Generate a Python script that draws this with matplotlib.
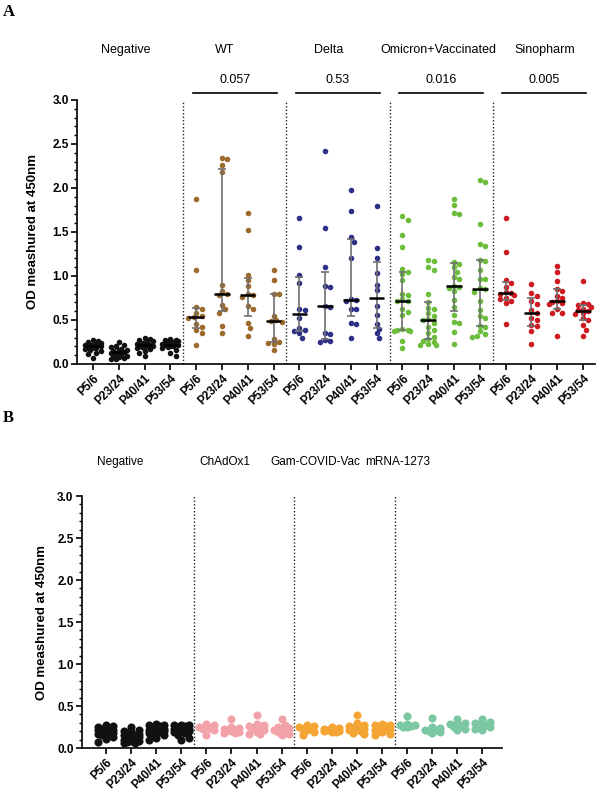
import matplotlib.pyplot as plt
import numpy as np
from matplotlib.ticker import MultipleLocator

plt.rcParams['font.family'] = ['Liberation Sans', 'DejaVu Sans']

time_points = ['P5/6', 'P23/24', 'P40/41', 'P53/54']

negative = [
    [0.27, 0.26, 0.25, 0.24, 0.23, 0.22, 0.21, 0.21, 0.20, 0.20, 0.19, 0.18, 0.17, 0.16, 0.15, 0.13, 0.11, 0.07],
    [0.25, 0.22, 0.20, 0.19, 0.17, 0.16, 0.15, 0.15, 0.14, 0.13, 0.12, 0.10, 0.09, 0.08, 0.08, 0.07, 0.06, 0.06],
    [0.29, 0.28, 0.27, 0.26, 0.25, 0.24, 0.23, 0.22, 0.22, 0.21, 0.20, 0.20, 0.19, 0.18, 0.17, 0.15, 0.12, 0.09],
    [0.28, 0.27, 0.27, 0.26, 0.25, 0.24, 0.23, 0.23, 0.22, 0.22, 0.21, 0.20, 0.19, 0.18, 0.16, 0.12, 0.09],
]
wt = [
    [1.88, 1.07, 0.65, 0.63, 0.58, 0.54, 0.53, 0.52, 0.45, 0.42, 0.39, 0.35, 0.22],
    [2.34, 2.33, 2.26, 2.18, 0.90, 0.83, 0.80, 0.78, 0.67, 0.62, 0.58, 0.43, 0.35],
    [1.71, 1.52, 1.01, 0.95, 0.89, 0.80, 0.78, 0.76, 0.66, 0.62, 0.46, 0.41, 0.32],
    [1.07, 0.95, 0.79, 0.79, 0.55, 0.50, 0.49, 0.48, 0.28, 0.25, 0.24, 0.23, 0.16],
]
delta = [
    [1.66, 1.33, 1.01, 0.92, 0.63, 0.61, 0.52, 0.41, 0.39, 0.37, 0.35, 0.30],
    [2.42, 1.54, 1.10, 0.89, 0.87, 0.66, 0.65, 0.35, 0.34, 0.27, 0.26, 0.25],
    [1.98, 1.74, 1.44, 1.39, 1.20, 0.74, 0.73, 0.71, 0.63, 0.62, 0.46, 0.45, 0.30],
    [1.80, 1.32, 1.20, 1.03, 0.90, 0.84, 0.66, 0.56, 0.45, 0.40, 0.35, 0.30],
]
omicron = [
    [1.68, 1.64, 1.47, 1.33, 1.08, 1.04, 1.02, 0.95, 0.80, 0.78, 0.74, 0.72, 0.71, 0.63, 0.59, 0.56,
     0.40, 0.39, 0.39, 0.38, 0.37, 0.26, 0.18],
    [1.18, 1.17, 1.10, 1.07, 0.80, 0.70, 0.64, 0.62, 0.58, 0.54, 0.51, 0.50, 0.47, 0.42, 0.39, 0.35,
     0.31, 0.28, 0.26, 0.25, 0.23, 0.22, 0.22],
    [1.87, 1.81, 1.72, 1.70, 1.16, 1.14, 1.10, 1.05, 0.99, 0.97, 0.89, 0.88, 0.86, 0.83, 0.73, 0.65,
     0.56, 0.48, 0.47, 0.36, 0.23],
    [2.09, 2.07, 1.59, 1.36, 1.34, 1.18, 1.17, 1.07, 0.97, 0.96, 0.86, 0.85, 0.82, 0.71, 0.61, 0.54,
     0.52, 0.43, 0.42, 0.37, 0.34, 0.32, 0.31],
]
sinopharm = [
    [1.66, 1.27, 0.95, 0.92, 0.88, 0.82, 0.81, 0.80, 0.78, 0.75, 0.74, 0.71, 0.69, 0.45],
    [0.91, 0.81, 0.77, 0.72, 0.68, 0.61, 0.58, 0.52, 0.50, 0.44, 0.43, 0.38, 0.23],
    [1.11, 1.04, 0.94, 0.85, 0.83, 0.77, 0.75, 0.71, 0.70, 0.69, 0.68, 0.62, 0.58, 0.58, 0.32],
    [0.94, 0.69, 0.68, 0.67, 0.65, 0.63, 0.61, 0.60, 0.58, 0.57, 0.52, 0.50, 0.44, 0.39, 0.32],
]
chadox1 = [
    [0.29, 0.27, 0.25, 0.24, 0.23, 0.21, 0.16],
    [0.34, 0.25, 0.24, 0.23, 0.22, 0.21, 0.20, 0.19, 0.18, 0.18],
    [0.39, 0.29, 0.27, 0.26, 0.24, 0.23, 0.21, 0.19, 0.17, 0.17],
    [0.35, 0.28, 0.25, 0.24, 0.23, 0.22, 0.20, 0.19, 0.17, 0.15],
]
gam_covid_vac = [
    [0.28, 0.26, 0.25, 0.24, 0.23, 0.22, 0.19, 0.15],
    [0.25, 0.24, 0.23, 0.22, 0.21, 0.21, 0.20, 0.20, 0.19, 0.19],
    [0.39, 0.30, 0.28, 0.26, 0.25, 0.24, 0.23, 0.22, 0.21, 0.20, 0.18, 0.17],
    [0.29, 0.28, 0.27, 0.26, 0.25, 0.24, 0.23, 0.22, 0.21, 0.20, 0.19, 0.17, 0.15],
]
mrna_1273 = [
    [0.38, 0.29, 0.28, 0.27, 0.26, 0.25, 0.25],
    [0.36, 0.25, 0.24, 0.22, 0.21, 0.20, 0.19, 0.18],
    [0.35, 0.30, 0.29, 0.27, 0.26, 0.25, 0.23, 0.21],
    [0.35, 0.31, 0.30, 0.28, 0.27, 0.26, 0.25, 0.23, 0.22],
]

names_a = ['Negative', 'WT', 'Delta', 'Omicron+Vaccinated', 'Sinopharm']
groups_a = [negative, wt, delta, omicron, sinopharm]
colors_a = ['#111111', '#9c6a2c', '#2e2f86', '#6cbd3c', '#d01a22']
p_values = ['0.057', '0.53', '0.016', '0.005']

names_b = ['Negative', 'ChAdOx1', 'Gam-COVID-Vac', 'mRNA-1273']
groups_b = [negative, chadox1, gam_covid_vac, mrna_1273]
colors_b = ['#111111', '#f2a3aa', '#f5a534', '#7cc7a3']


def swarm_offsets(values, px_x, px_y, diam, max_half):
    # beeswarm limited to a fixed width; overlaps allowed once the row is full
    values = np.asarray(values, dtype=float)
    order = np.argsort(-values)
    placed = []
    offsets = np.zeros(len(values))
    n_steps = int(np.ceil(max_half / (diam * 0.6)))
    step = max_half / n_steps
    cands = [0.0]
    for k in range(1, n_steps + 1):
        cands += [k * step, -k * step]
    for i in order:
        y = values[i] * px_y
        best, best_d = 0.0, -1.0
        for c in cands:
            d = min([np.hypot(c - px, y - py) for px, py in placed], default=1e9)
            if d >= diam * 0.85:
                best = c
                break
            if d > best_d:
                best, best_d = c, d
        placed.append((best, y))
        offsets[i] = best / px_x
    return offsets


def draw_panel(ax, groups, colors, px_x, px_y, diam, size, max_half, bars_on_top):
    for g, (data, color) in enumerate(zip(groups, colors)):
        for t, vals in enumerate(data):
            x0 = g * 4 + t
            off = swarm_offsets(vals, px_x, px_y, diam, max_half)
            ax.scatter(x0 + off, vals, s=size, color=color, linewidths=0, zorder=3)
            q1, med, q3 = np.percentile(vals, [25, 50, 75], method='weibull')
            z = 4 if bars_on_top else 2
            bar_col = '#111111' if g == 0 else '#707070'
            ax.vlines(x0, q1, q3, color=bar_col, lw=1.2, zorder=z)
            ax.hlines([q1, q3], x0 - 0.15, x0 + 0.15, color=bar_col, lw=1.2, zorder=z)
            ax.hlines(med, x0 - 0.3, x0 + 0.3, color='black', lw=1.8, zorder=z)
    n = len(groups)
    ax.vlines([g * 4 - 0.5 for g in range(1, n)], 0, 3.0, colors='#222222',
              linestyles=(0, (1, 1.5)), lw=1.0, zorder=1)
    ax.set_ylim(0, 3.0)
    ax.yaxis.set_major_locator(MultipleLocator(0.5))
    ax.yaxis.set_minor_locator(MultipleLocator(0.1))
    ax.yaxis.set_major_formatter(plt.FormatStrFormatter('%.1f'))
    ax.set_xticks(range(n * 4))
    ax.set_xticklabels(time_points * n, rotation=45, ha='right', rotation_mode='anchor',
                       fontsize=8.5, fontweight='bold')
    for lab in ax.get_yticklabels():
        lab.set_fontweight('bold')
        lab.set_fontsize(8.5)
    ax.spines['top'].set_visible(False)
    ax.spines['right'].set_visible(False)
    ax.spines['left'].set_linewidth(1.2)
    ax.spines['bottom'].set_linewidth(1.2)
    ax.tick_params(axis='both', which='major', length=4, width=1.2, pad=2)
    ax.tick_params(axis='y', which='minor', length=2.5, width=1.0)
    ax.set_ylabel('OD meashured at 450nm', fontsize=9.5, fontweight='bold')


fig = plt.figure(figsize=(6.02, 7.94), dpi=100)

ax_a = fig.add_axes([0.128, 0.5416, 0.860, 0.3325])
draw_panel(ax_a, groups_a, colors_a, 25.8, 88, 5.2, 16, 8.0, True)
ax_a.set_xlim(-0.62, 19.46)
ax_a.yaxis.set_label_coords(-0.073, 0.5)
label_x_a = [1.25, 5.1, 9.15, 13.4, 17.5]
for name, lx in zip(names_a, label_x_a):
    ax_a.text(lx, 3.57, name, ha='center', va='center', fontsize=9)
for g, p in enumerate(p_values, start=1):
    c = g * 4 + 1.5
    ax_a.plot([c - 1.62, c + 1.62], [3.08, 3.08], color='black', lw=1.2, clip_on=False)
    ax_a.text(c, 3.23, p, ha='center', va='center', fontsize=9)

ax_b = fig.add_axes([0.136, 0.0579, 0.698, 0.3174])
draw_panel(ax_b, groups_b, colors_b, 25.1, 84, 7.5, 34, 7.5, False)
ax_b.set_xlim(-0.96, 15.78)
ax_b.yaxis.set_label_coords(-0.081, 0.5)
label_x_b = [0.56, 4.74, 8.33, 11.63]
for name, lx in zip(names_b, label_x_b):
    ax_b.text(lx, 3.4, name, ha='center', va='center', fontsize=8.5)

fig.text(0.005, 1 - 12 / 794, 'A', fontsize=12, fontweight='bold', family='Liberation Serif',
         ha='left', va='center')
fig.text(0.005, 1 - 418 / 794, 'B', fontsize=12, fontweight='bold', family='Liberation Serif',
         ha='left', va='center')

fig.savefig('out.png', dpi=100)
